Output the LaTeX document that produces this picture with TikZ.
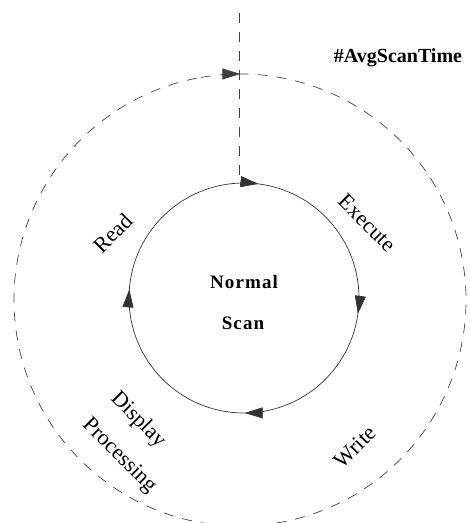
\documentclass[tikz,border=0pt]{standalone}
\usepackage{fontspec}
\setmainfont{Liberation Serif}
\newfontfamily\spacedfont[LetterSpace=6]{Liberation Serif}
\usetikzlibrary{arrows.meta, decorations.markings, calc}
\tikzset{
    scanline/.style={draw=black!80, line width=0.7pt},
    ringline/.style={draw=black!75, line width=0.7pt, dash pattern=on 10pt off 9pt},
    phase/.style={font=\fontsize{22}{24}\selectfont, inner sep=0pt},
    title/.style={font=\fontsize{19}{21}\selectfont\spacedfont\bfseries, inner sep=0pt},
}

\begin{document}
\begin{tikzpicture}[x=1pt, y=1pt]
    \useasboundingbox (0,0) rectangle (470,523);
    % the two loops
    \node[circle, minimum size=230pt, inner sep=0pt] (scan) at (244,225) {};
    \node[circle, minimum size=452pt, inner sep=0pt] (avg) at (240,223) {};
    \coordinate (entry) at (239,510);
    \draw[scanline, decoration={markings,
        mark=at position 0.02 with {\arrow{Triangle[length=18pt, width=11pt]}},
        mark=at position 0.272 with {\arrow{Triangle[length=18pt, width=11pt]}},
        mark=at position 0.499 with {\arrow{Triangle[length=18pt, width=11pt]}},
        mark=at position 0.762 with {\arrow{Triangle[length=18pt, width=11pt]}}},
        postaction=decorate]
        (scan.center) ++(90:115) arc[start angle=90, delta angle=-360, radius=115];
    \draw[ringline, decoration={markings,
        mark=at position 0.028 with {\arrow{Triangle[length=18pt, width=11pt]}}},
        postaction=decorate]
        (avg.center) ++(100:226) arc[start angle=100, delta angle=-360, radius=226];
    \draw[ringline] (entry) -- (entry |- scan.north);
    % texts
    \node[title] (normal) at (244,241) {Normal};
    \node[title] (scanname) at (243,200) {Scan};
    \node[font=\fontsize{20}{22}\selectfont\bfseries, inner sep=0pt] (avgtime) at (398,465) {\#AvgScanTime};
    \node[phase, rotate=45] (read) at (113,290) {Read};
    \node[phase, rotate=-45] (execute) at (367,300) {Execute};
    \node[phase, rotate=45] (write) at (355,76) {Write};
    \node[phase, rotate=-45] (display) at (138,103) {Display};
    \node[phase, rotate=-45] (processing) at (119,67) {Processing};
\end{tikzpicture}
\end{document}
